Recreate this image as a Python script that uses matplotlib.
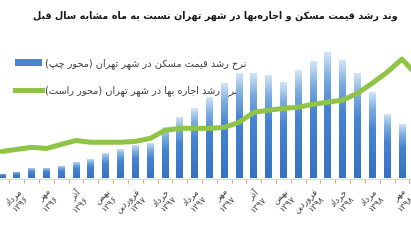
import numpy as np
import matplotlib
matplotlib.use('Agg')
import matplotlib.pyplot as plt
from matplotlib.colors import LinearSegmentedColormap
from matplotlib.patches import Patch
from matplotlib.lines import Line2D

# monthly series, Tir 1396 .. Mordad 1398 (+1 month off the right edge)
price_growth = [4.1, 5.0, 8.3, 8.3, 9.9, 13.2, 15.7, 20.7, 24.0, 27.3, 28.9, 42.1,
                50.4, 57.9, 66.9, 78.5, 86.8, 86.8, 85.1, 79.3, 89.3, 96.7, 104.1,
                97.5, 86.8, 71.1, 52.9, 44.6, 38.0]
rent_growth = [9.1, 9.8, 10.5, 10.1, 11.5, 12.8, 12.2, 12.2, 12.2, 12.5, 13.5, 16.2,
               16.9, 16.9, 16.9, 17.2, 18.9, 22.3, 23.0, 23.6, 24.0, 25.0, 25.7,
               26.4, 28.7, 32.1, 35.8, 40.2, 34.8]
tick_labels = ['مرداد\n۱۳۹۶', 'مهر\n۱۳۹۶', 'آذر\n۱۳۹۶', 'بهمن\n۱۳۹۶', 'فروردین\n۱۳۹۷',
               'خرداد\n۱۳۹۷', 'مرداد\n۱۳۹۷', 'مهر\n۱۳۹۷', 'آذر\n۱۳۹۷', 'بهمن\n۱۳۹۷',
               'فروردین\n۱۳۹۸', 'خرداد\n۱۳۹۸', 'مرداد\n۱۳۹۸', 'مهر\n۱۳۹۸']
title = 'وند رشد قیمت مسکن و اجاره‌بها در شهر تهران نسبت به ماه مشابه سال قبل'
label_price = 'نرخ رشد قیمت مسکن در شهر تهران (محور چپ)'
label_rent = 'نرخ رشد اجاره بها در شهر تهران (محور راست)'

# --- minimal Persian shaping + right-to-left ordering (no bidi libs available)
FORMS = {
    'ا': (0xFE8D, 0xFE8E), 'آ': (0xFE81, 0xFE82), 'د': (0xFEA9, 0xFEAA),
    'ذ': (0xFEAB, 0xFEAC), 'ر': (0xFEAD, 0xFEAE), 'ز': (0xFEAF, 0xFEB0),
    'ژ': (0xFB8A, 0xFB8B), 'و': (0xFEED, 0xFEEE),
    'ب': (0xFE8F, 0xFE90, 0xFE91, 0xFE92), 'پ': (0xFB56, 0xFB57, 0xFB58, 0xFB59),
    'ت': (0xFE95, 0xFE96, 0xFE97, 0xFE98), 'ث': (0xFE99, 0xFE9A, 0xFE9B, 0xFE9C),
    'ج': (0xFE9D, 0xFE9E, 0xFE9F, 0xFEA0), 'چ': (0xFB7A, 0xFB7B, 0xFB7C, 0xFB7D),
    'ح': (0xFEA1, 0xFEA2, 0xFEA3, 0xFEA4), 'خ': (0xFEA5, 0xFEA6, 0xFEA7, 0xFEA8),
    'س': (0xFEB1, 0xFEB2, 0xFEB3, 0xFEB4), 'ش': (0xFEB5, 0xFEB6, 0xFEB7, 0xFEB8),
    'ص': (0xFEB9, 0xFEBA, 0xFEBB, 0xFEBC), 'ض': (0xFEBD, 0xFEBE, 0xFEBF, 0xFEC0),
    'ط': (0xFEC1, 0xFEC2, 0xFEC3, 0xFEC4), 'ظ': (0xFEC5, 0xFEC6, 0xFEC7, 0xFEC8),
    'ع': (0xFEC9, 0xFECA, 0xFECB, 0xFECC), 'غ': (0xFECD, 0xFECE, 0xFECF, 0xFED0),
    'ف': (0xFED1, 0xFED2, 0xFED3, 0xFED4), 'ق': (0xFED5, 0xFED6, 0xFED7, 0xFED8),
    'ک': (0xFB8E, 0xFB8F, 0xFB90, 0xFB91), 'گ': (0xFB92, 0xFB93, 0xFB94, 0xFB95),
    'ل': (0xFEDD, 0xFEDE, 0xFEDF, 0xFEE0), 'م': (0xFEE1, 0xFEE2, 0xFEE3, 0xFEE4),
    'ن': (0xFEE5, 0xFEE6, 0xFEE7, 0xFEE8), 'ه': (0xFEE9, 0xFEEA, 0xFEEB, 0xFEEC),
    'ی': (0xFBFC, 0xFBFD, 0xFBFE, 0xFBFF),
}
DIGITS = set('0123456789۰۱۲۳۴۵۶۷۸۹')


def shape_line(s):
    out = []
    for i, c in enumerate(s):
        if c not in FORMS:
            out.append(c)
            continue
        prev = s[i - 1] if i > 0 else ''
        nxt = s[i + 1] if i < len(s) - 1 else ''
        f = FORMS[c]
        jp = prev in FORMS and len(FORMS[prev]) == 4
        jn = len(f) == 4 and nxt in FORMS
        if jp and jn:
            out.append(chr(f[3]))
        elif jp:
            out.append(chr(f[1]))
        elif jn:
            out.append(chr(f[2]))
        else:
            out.append(chr(f[0]))
    s = ''.join(out).replace('\u200c', '')
    # split into digit runs / other runs, reverse order for RTL display
    runs, cur = [], ''
    for c in s:
        if cur and ((c in DIGITS) != (cur[-1] in DIGITS)):
            runs.append(cur)
            cur = ''
        cur += c
    runs.append(cur)
    vis = []
    for r in reversed(runs):
        vis.append(r if r[0] in DIGITS else r[::-1])
    s = ''.join(vis)
    return s.translate(str.maketrans('()', ')('))


def fa(s):
    return '\n'.join(shape_line(l) for l in s.split('\n'))


plt.rcParams['font.family'] = ['DejaVu Sans']

fig = plt.figure(figsize=(4.11, 2.45), dpi=100)
ax = fig.add_axes([0, 66.5 / 245, 1, 148.5 / 245])
x = np.arange(len(price_growth))

bars = ax.bar(x, price_growth, width=0.46, color='none', zorder=2)
cmap = LinearSegmentedColormap.from_list(
    'g', [(0, '#3672c2'), (0.55, '#4683d0'), (0.8, '#7eaee2'), (1, '#d6e6f6')])
grad = np.linspace(0, 1, 100).reshape(-1, 1)
for b in bars:
    x0, h, w = b.get_x(), b.get_height(), b.get_width()
    im = ax.imshow(grad, extent=[x0, x0 + w, 0, h], origin='lower', aspect='auto',
                   cmap=cmap, zorder=2)
    im.set_clip_path(b)

ax.set_xlim(-0.135, 27.61)
ax.set_ylim(0, 122)
ax.set_facecolor('none')
for sp in ['top', 'left', 'right']:
    ax.spines[sp].set_visible(False)
ax.spines['bottom'].set_color('#d9d9d9')
ax.set_yticks([])
ax.set_xticks(x[1::2][:len(tick_labels)])
ax.set_xticklabels([fa(t) for t in tick_labels], rotation=45, ha='right', va='top',
                   rotation_mode='anchor', fontsize=6.3, color='#404040',
                   multialignment='right')
ax.tick_params(axis='x', which='major', length=0, pad=6)
ax.set_xticks(x[:-1] + 0.5, minor=True)
ax.tick_params(axis='x', which='minor', length=3, color='#d8a878', width=0.8)

ax2 = ax.twinx()
ax2.plot(x, rent_growth, color='#8fc447', lw=3.6, solid_capstyle='round',
         solid_joinstyle='round', zorder=3)
ax2.set_ylim(0, 50)
ax2.set_yticks([])
for sp in ax2.spines.values():
    sp.set_visible(False)

handles = [Patch(facecolor='#4a86d0', edgecolor='none'),
           Line2D([0], [0], color='#8fc447', lw=3.6)]
leg = ax.legend(handles, [fa(label_price), fa(label_rent)], loc='upper left',
                bbox_to_anchor=(15 / 411, (245 - 58) / 245), bbox_transform=fig.transFigure,
                frameon=False, fontsize=7, handlelength=2.8, handletextpad=0.3,
                labelspacing=1.7, borderpad=0, borderaxespad=0,
                labelcolor='#404040')
leg.set_zorder(1)

fig.text(398 / 411, (245 - 16) / 245, fa(title), ha='right', va='center',
         fontsize=6.9, weight='bold', color='#1a1a1a')

fig.savefig('out.png', dpi=100)
